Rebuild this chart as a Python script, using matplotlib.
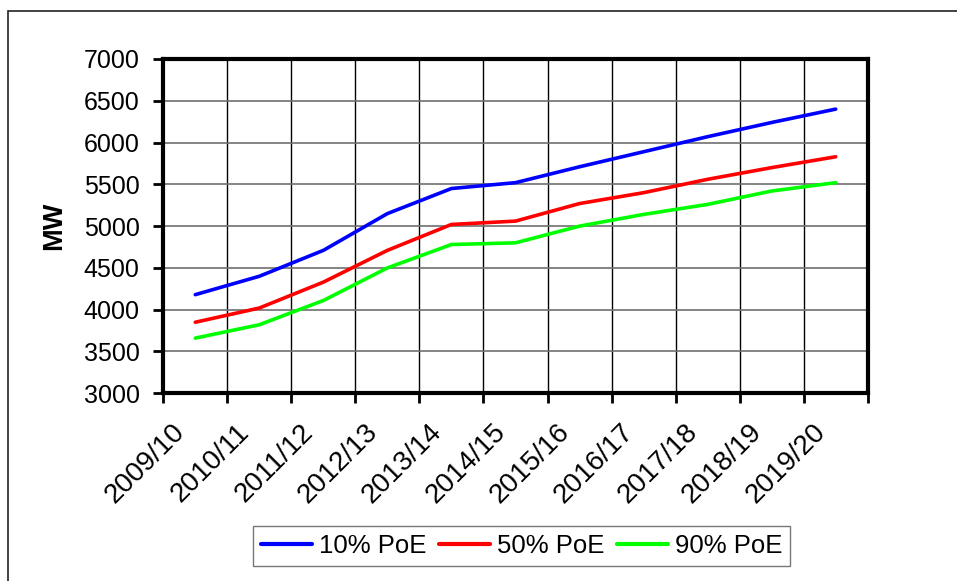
import numpy as np
import matplotlib
matplotlib.use('Agg')
import matplotlib.pyplot as plt
import matplotlib.transforms as mtransforms
from matplotlib.patches import Rectangle

plt.rcParams['font.family'] = ['Liberation Sans', 'DejaVu Sans']

# dane
lata = ['2009/10', '2010/11', '2011/12', '2012/13', '2013/14', '2014/15',
        '2015/16', '2016/17', '2017/18', '2018/19', '2019/20']
poe10 = [4180, 4400, 4710, 5150, 5450, 5520, 5710, 5890, 6070, 6240, 6400]
poe50 = [3850, 4020, 4330, 4710, 5020, 5060, 5270, 5400, 5560, 5700, 5830]
poe90 = [3660, 3820, 4110, 4500, 4780, 4800, 5000, 5140, 5260, 5420, 5520]

fig = plt.figure(figsize=(9.57, 5.81), dpi=100)
ax = fig.add_axes([0.1706, 0.3231, 0.7361, 0.5754])

# ramka wokół całego wykresu
fig.patches.append(Rectangle((0.0084, -0.1), 1.2, 1.081, transform=fig.transFigure,
                             fill=False, edgecolor='#222222', linewidth=1.2))

x = np.arange(len(lata))
ax.plot(x, poe10, color='#0000FF', lw=2.6, label='10% PoE', solid_capstyle='round')
ax.plot(x, poe50, color='#FF0000', lw=2.6, label='50% PoE', solid_capstyle='round')
ax.plot(x, poe90, color='#00FF00', lw=2.6, label='90% PoE', solid_capstyle='round')

ax.set_xlim(-0.5, len(lata) - 0.5)
ax.set_ylim(3000, 7000)
ax.set_yticks(np.arange(3000, 7001, 500))

# ticki na granicach kategorii, etykiety na środkach (jako zwykły tekst)
ax.set_xticks(np.arange(-0.5, len(lata)))
ax.set_xticklabels([])
ax.tick_params(axis='x', direction='out', length=7, width=2)
ax.tick_params(axis='y', direction='out', length=7, width=2, labelsize=18, pad=10)

przes = mtransforms.ScaledTranslation(-14 / 100, -35 / 100, fig.dpi_scale_trans)
trans = ax.get_xaxis_transform() + przes
for xi, nazwa in zip(x, lata):
    ax.text(xi, 0, nazwa, transform=trans, rotation=45, ha='right', va='center',
            rotation_mode='anchor', fontsize=20)

for xv in np.arange(0.5, len(lata) - 1):
    ax.axvline(xv, color='black', lw=1, zorder=0)
for yv in np.arange(3500, 7000, 500):
    ax.axhline(yv, color='#707070', lw=1.2, zorder=0)

for s in ax.spines.values():
    s.set_linewidth(3)

ax.set_ylabel('MW', fontsize=19.5, fontweight='bold', labelpad=12)

leg = ax.legend(loc='center', bbox_to_anchor=(0.545, 0.0602), bbox_transform=fig.transFigure,
                ncol=3, fontsize=18.5, frameon=True, fancybox=False, handlelength=2,
                handletextpad=0.25, columnspacing=0.5, borderpad=0.3)
leg.get_frame().set_edgecolor('#555555')
leg.get_frame().set_linewidth(1)
for l in leg.get_lines():
    l.set_linewidth(3)

fig.savefig('out.png', dpi=100)
